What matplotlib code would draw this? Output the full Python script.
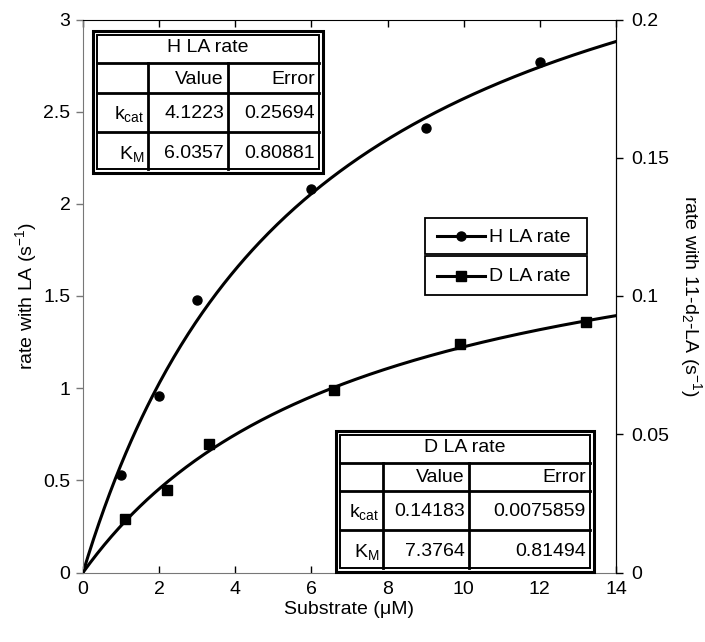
import numpy as np
import matplotlib.pyplot as plt
from matplotlib.patches import Rectangle
from matplotlib.lines import Line2D

plt.rcParams['font.family'] = ['Liberation Sans', 'DejaVu Sans']
plt.rcParams['mathtext.fontset'] = 'custom'
plt.rcParams['mathtext.rm'] = 'Liberation Sans'
plt.rcParams['mathtext.it'] = 'Liberation Sans:italic'
plt.rcParams['mathtext.bf'] = 'Liberation Sans:bold'
FS = 14

# H LA (left axis)
h_x = [1, 2, 3, 6, 9, 12]
h_y = [0.53, 0.96, 1.48, 2.08, 2.41, 2.77]
# D LA (right axis)
d_x = [1.1, 2.2, 3.3, 6.6, 9.9, 13.2]
d_y = [0.0195, 0.0297, 0.0465, 0.066, 0.0825, 0.0905]

# fit parameters [kcat, KM] and errors
h_par = [4.1223, 6.0357]
h_err = [0.25694, 0.80881]
d_par = [0.14183, 7.3764]
d_err = [0.0075859, 0.81494]

W, H = 705, 642
fig = plt.figure(figsize=(W/100, H/100), dpi=100)
ax = fig.add_axes([83/W, (H-572.5)/H, (616-83)/W, (572.5-19.5)/H])
ax2 = ax.twinx()

xx = np.linspace(0, 14, 300)
ax.plot(xx, h_par[0]*xx/(h_par[1]+xx), color='black', lw=2.2)
ax.plot(h_x, h_y, 'o', color='black', ms=6.5)
ax2.plot(xx, d_par[0]*xx/(d_par[1]+xx), color='black', lw=2.2)
ax2.plot(d_x, d_y, 's', color='black', ms=6.5)

ax.set_xlim(0, 14)
ax.set_ylim(0, 3)
ax2.set_ylim(0, 0.2)
ax.set_xticks(range(0, 15, 2))
ax.set_yticks(np.arange(0, 3.01, 0.5))
ax2.set_yticks([0, 0.05, 0.1, 0.15, 0.2])
fmt = plt.FuncFormatter(lambda v, p: f'{v:g}')
ax.yaxis.set_major_formatter(fmt)
ax2.yaxis.set_major_formatter(fmt)

ax.tick_params(axis='x', direction='in', top=True, length=5, width=1, pad=6, labelsize=FS)
ax.tick_params(axis='y', direction='out', length=5, width=1, color='#777777', labelsize=FS, pad=4)
ax2.tick_params(axis='y', direction='out', length=5, width=1, labelsize=FS, pad=6)
for s in ['left', 'bottom']:
    ax.spines[s].set_color('#777777')
ax.spines['top'].set_color('black')
ax2.spines['right'].set_color('black')
for s in ['left', 'bottom', 'top']:
    ax2.spines[s].set_visible(False)

fig.text(83/W + 266/W, 1 - 609/H, 'Substrate (μM)', ha='center', va='center', fontsize=FS)
fig.text(26/W, 1 - 296/H, 'rate with LA (s$^{-1}$)', ha='center', va='center',
         rotation=90, fontsize=FS)
fig.text(691/W, 1 - 296/H, 'rate with 11-d$_2$-LA (s$^{-1}$)', ha='center', va='center',
         rotation=270, fontsize=FS)

# overlay in pixel coords for tables and legend
o = fig.add_axes([0, 0, 1, 1], zorder=10)
o.set_xlim(0, W)
o.set_ylim(H, 0)
o.axis('off')
o.patch.set_visible(False)


def table(cols, rows, title, par, err):
    l, r = cols[0], cols[-1]
    t, b = rows[0], rows[-1]
    o.add_patch(Rectangle((l, t), r-l, b-t, fc='white', ec='black', lw=2.2))
    o.add_patch(Rectangle((l+4, t+4), r-l-8, b-t-8, fc='none', ec='black', lw=1.4))
    for y in rows[1:-1]:
        o.add_line(Line2D([l+4, r-4], [y, y], color='black', lw=2))
    for x in cols[1:-1]:
        o.add_line(Line2D([x, x], [rows[1], b-4], color='black', lw=2))
    mid = lambda i: (rows[i] + rows[i+1]) / 2 + 1
    o.text((l+r)/2, mid(0), title, ha='center', va='center', fontsize=FS)
    o.text(cols[2]-4, mid(1), 'Value', ha='right', va='center', fontsize=FS)
    o.text(cols[3]-8, mid(1), 'Error', ha='right', va='center', fontsize=FS)
    labels = ['k$_{\\mathrm{cat}}$', 'K$_{\\mathrm{M}}$']
    for i in range(2):
        o.text(cols[1]-4, mid(2+i), labels[i], ha='right', va='center', fontsize=FS)
        o.text(cols[2]-4, mid(2+i), str(par[i]), ha='right', va='center', fontsize=FS)
        o.text(cols[3]-8, mid(2+i), str(err[i]), ha='right', va='center', fontsize=FS)


table([93, 148, 228, 323], [30.5, 63, 93, 132, 173], 'H LA rate', h_par, h_err)
table([336, 383, 469, 594], [431, 463, 491, 530, 572], 'D LA rate', d_par, d_err)

# legend boxes
for (top, bot, mk, lab) in [(218, 254, 'o', 'H LA rate'), (256, 295, 's', 'D LA rate')]:
    o.add_patch(Rectangle((425, top), 162, bot-top, fc='white', ec='black', lw=1.3))
    cy = (top + bot) / 2
    o.add_line(Line2D([437, 485], [cy, cy], color='black', lw=2.2))
    o.plot([461], [cy], mk, color='black', ms=6.5)
    o.text(489, cy + 1, lab, ha='left', va='center', fontsize=FS)

fig.savefig('out.png', dpi=100)
